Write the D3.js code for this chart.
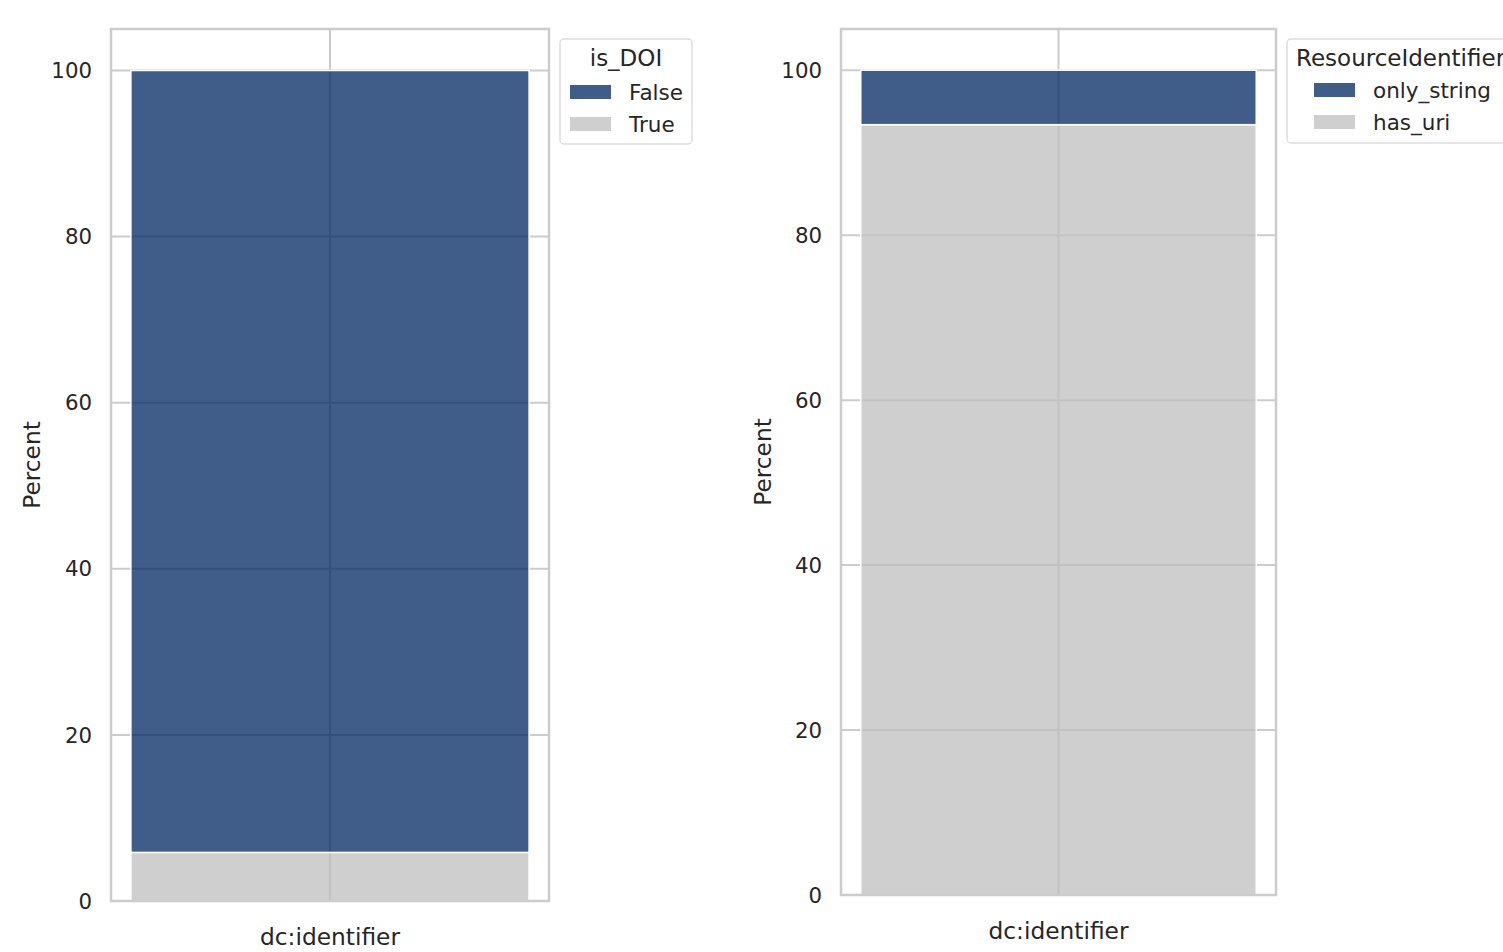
<!DOCTYPE html>
<html>
<head>
<meta charset="utf-8">
<script src="https://cdn.jsdelivr.net/npm/d3@7"></script>
<style>
  body { margin: 0; background: #fff; }
  text { font-family: "DejaVu Sans", sans-serif; fill: #262626; }
</style>
</head>
<body>
<div class="canvas"></div>
<script>
// data
const categories = ['dc:identifier'];
const yTicks = [0, 20, 40, 60, 80, 100];

const doiKeys = ['True', 'False'];          // bottom to top
const doiTrue = [5.85];
const doiFalse = [94.15];

const resKeys = ['has_uri', 'only_string']; // bottom to top
const resHasUri = [93.4];
const resOnlyString = [6.6];

const colors = {blue: '#002660', gray: '#bfbfbf'};

const svg = d3.select('.canvas')
  .append('svg')
    .attr('width', 1503)
    .attr('height', 952);

// one panel per subplot
const panels = [
  {
    frame: {left: 111, right: 549, top: 29, bottom: 901},
    keys: doiKeys,
    rows: categories.map((c, i) => ({cat: c, True: doiTrue[i], False: doiFalse[i]})),
    fill: {True: colors.gray, False: colors.blue},
    legend: {title: 'is_DOI', order: ['False', 'True'], x: 560, y: 39, w: 132, h: 105, titleX: 626, titleAnchor: 'middle', itemY: 53},
    yLabelX: 32
  },
  {
    frame: {left: 841, right: 1276, top: 29, bottom: 895},
    keys: resKeys,
    rows: categories.map((c, i) => ({cat: c, has_uri: resHasUri[i], only_string: resOnlyString[i]})),
    fill: {has_uri: colors.gray, only_string: colors.blue},
    legend: {title: 'ResourceIdentifier', order: ['only_string', 'has_uri'], x: 1287, y: 39, w: 240, h: 104, titleX: 1296, titleAnchor: 'start', itemY: 51},
    yLabelX: 763
  }
];

panels.forEach(p => {
  const f = p.frame;
  const g = svg.append('g');

  const x = d3.scaleBand()
    .domain(categories)
    .range([f.left, f.right])
    .paddingInner(0)
    .paddingOuter(0.05);

  const y = d3.scaleLinear()
    .domain([0, 105])
    .range([f.bottom, f.top]);

  // grid
  g.selectAll('.hgrid')
    .data(yTicks)
    .enter()
    .append('line')
      .attr('x1', f.left).attr('x2', f.right)
      .attr('y1', d => y(d)).attr('y2', d => y(d))
      .attr('stroke', '#cccccc')
      .attr('stroke-width', 2);

  g.selectAll('.vgrid')
    .data(categories)
    .enter()
    .append('line')
      .attr('x1', d => x(d) + x.bandwidth() / 2)
      .attr('x2', d => x(d) + x.bandwidth() / 2)
      .attr('y1', f.top).attr('y2', f.bottom)
      .attr('stroke', '#cccccc')
      .attr('stroke-width', 2);

  // stacked bars
  const series = d3.stack().keys(p.keys)(p.rows);
  g.selectAll('.layer')
    .data(series)
    .enter()
    .append('g')
      .attr('fill', d => p.fill[d.key])
      .selectAll('rect')
      .data(d => d)
      .enter()
      .append('rect')
        .attr('x', d => x(d.data.cat))
        .attr('width', x.bandwidth())
        .attr('y', d => y(d[1]))
        .attr('height', d => y(d[0]) - y(d[1]))
        .attr('fill-opacity', 0.75)
        .attr('stroke', '#ffffff')
        .attr('stroke-width', 1.5);

  // frame
  g.append('rect')
    .attr('x', f.left).attr('y', f.top)
    .attr('width', f.right - f.left)
    .attr('height', f.bottom - f.top)
    .attr('fill', 'none')
    .attr('stroke', '#cccccc')
    .attr('stroke-width', 2.5);

  // y tick labels
  g.selectAll('.ytick')
    .data(yTicks)
    .enter()
    .append('text')
      .attr('x', f.left - 19)
      .attr('y', d => y(d))
      .attr('dy', '0.36em')
      .attr('text-anchor', 'end')
      .style('font-size', '21.3px')
      .text(d => d);

  // x tick labels
  g.selectAll('.xtick')
    .data(categories)
    .enter()
    .append('text')
      .attr('x', d => x(d) + x.bandwidth() / 2)
      .attr('y', f.bottom + 44)
      .attr('text-anchor', 'middle')
      .style('font-size', '23.3px')
      .text(d => d);

  // y label
  g.append('text')
    .attr('transform', `translate(${p.yLabelX}, ${(f.top + f.bottom) / 2}) rotate(-90)`)
    .attr('dy', '0.36em')
    .attr('text-anchor', 'middle')
    .style('font-size', '23.3px')
    .text('Percent');

  // legend
  const L = p.legend;
  const lg = g.append('g');
  lg.append('rect')
    .attr('x', L.x).attr('y', L.y)
    .attr('width', L.w).attr('height', L.h)
    .attr('rx', 4)
    .attr('fill', '#ffffff')
    .attr('fill-opacity', 0.8)
    .attr('stroke', '#dddddd')
    .attr('stroke-width', 1.5);

  lg.append('text')
    .attr('x', L.titleX)
    .attr('y', L.y + 19)
    .attr('dy', '0.36em')
    .attr('text-anchor', L.titleAnchor)
    .style('font-size', '23px')
    .text(L.title);

  const item = lg.selectAll('.item')
    .data(L.order)
    .enter()
    .append('g')
      .attr('transform', (d, i) => `translate(${L.x + 10 + (L.titleAnchor === 'start' ? 17 : 0)}, ${L.y + L.itemY + i * 32})`);

  item.append('rect')
    .attr('x', 0).attr('y', -7)
    .attr('width', 41).attr('height', 14)
    .attr('fill', d => p.fill[d])
    .attr('fill-opacity', 0.75);

  item.append('text')
    .attr('x', 59)
    .attr('y', 0)
    .attr('dy', '0.36em')
    .style('font-size', '21.5px')
    .text(d => d);
});
</script>
</body>
</html>
